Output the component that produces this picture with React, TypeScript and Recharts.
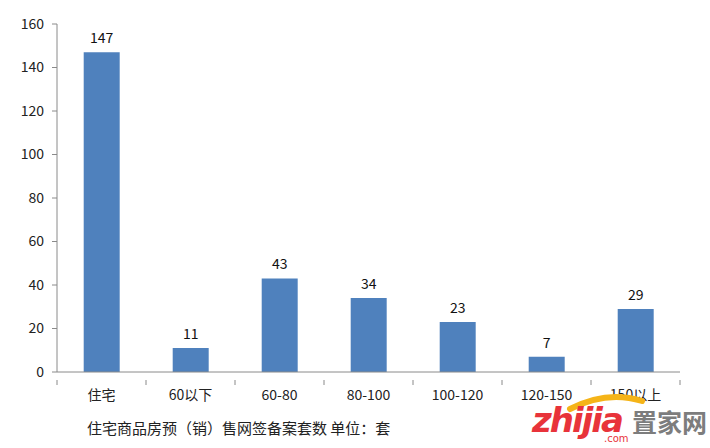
import React from 'react';
import { BarChart, Bar, XAxis, YAxis, LabelList } from 'recharts';

const categories = ['住宅', '60以下', '60-80', '80-100', '100-120', '120-150', '150以上'];
const counts = [147, 11, 43, 34, 23, 7, 29];
const yTicks = [0, 20, 40, 60, 80, 100, 120, 140, 160];
const caption = '住宅商品房预（销）售网签备案套数 单位：套';

const data = categories.map((name, i) => ({ name, value: counts[i] }));

const FONT = '"Noto Sans CJK SC", "Noto Sans", sans-serif';
const AXIS = '#8a8a8a';

// 分类轴：刻度线画在类别边界，文字在类别中间
function CategoryTick(props: any) {
  const { x, y, payload, index, visibleTicksCount } = props;
  const half = payload && typeof payload.offset === 'number' ? payload.offset : 44.5;
  const last = index === (visibleTicksCount ?? categories.length) - 1;
  return (
    <g>
      <line x1={x - half} y1={y} x2={x - half} y2={y + 5} stroke={AXIS} />
      {last && <line x1={x + half} y1={y} x2={x + half} y2={y + 5} stroke={AXIS} />}
      <text x={x} y={y + 20} textAnchor="middle" fontSize={14} fill="#222" fontFamily={FONT}>
        {payload.value}
      </text>
    </g>
  );
}

export default function App() {
  return (
    <div style={{ position: 'absolute', left: 0, top: 0, width: 710, height: 448, background: '#fff', fontFamily: FONT }}>
      <BarChart
        width={710}
        height={448}
        data={data}
        margin={{ top: 24, right: 30, bottom: 36, left: 0 }}
        barCategoryGap="30%"
      >
        <YAxis
          domain={[0, 160]}
          ticks={yTicks}
          width={57}
          tickSize={5}
          tickMargin={8}
          stroke={AXIS}
          tick={{ fill: '#222', fontSize: 14, fontFamily: FONT }}
          interval={0}
        />
        <XAxis
          dataKey="name"
          height={40}
          stroke={AXIS}
          tickLine={false}
          interval={0}
          tick={<CategoryTick />}
        />
        <Bar dataKey="value" fill="#4F81BD" isAnimationActive={false}>
          <LabelList dataKey="value" position="top" offset={9} fill="#111" fontSize={14} fontFamily={FONT} />
        </Bar>
      </BarChart>
      <div style={{ position: 'absolute', left: 87, top: 417, fontSize: 15, color: '#222', whiteSpace: 'nowrap' }}>
        {caption}
      </div>
      <svg style={{ position: 'absolute', left: 522, top: 389 }} width={188} height={59}>
        <path d="M 48 20 Q 85 1 120 12" stroke="#f5b418" strokeWidth={6} fill="none" strokeLinecap="round" />
        <text x={10} y={43} fontSize={34} fontWeight="bold" fontStyle="italic" fill="#e8333a" fontFamily="'DejaVu Sans', sans-serif" letterSpacing={-2}>
          zhijia
        </text>
        <text x={82} y={53} fontSize={10} fill="#e8333a" fontFamily="'DejaVu Sans', sans-serif">.com</text>
        <text x={110} y={43} fontSize={25} fontWeight="bold" fill="#7d7d7d" fontFamily={FONT}>置家网</text>
      </svg>
    </div>
  );
}
